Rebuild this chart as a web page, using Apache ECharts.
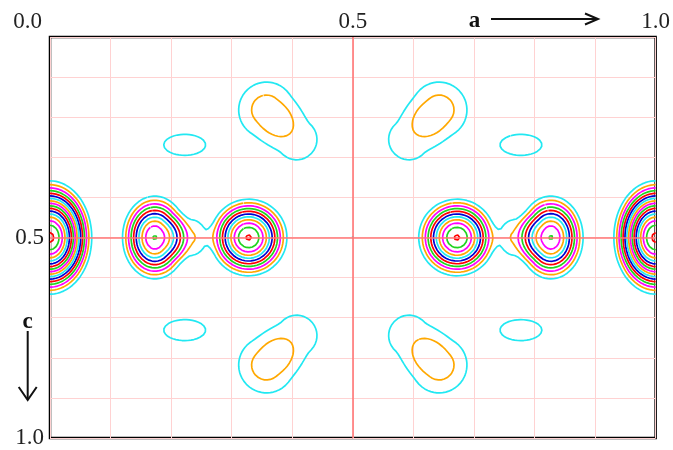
<!DOCTYPE html>
<html><head><meta charset="utf-8">
<script src="https://cdn.jsdelivr.net/npm/echarts@6/dist/echarts.min.js"></script>
<style>html,body{margin:0;padding:0;background:#fff}#c{width:673px;height:450px}</style>
</head><body><div id="c"></div>
<script>
// ---- values read from the map (fractional cell coordinates: a to the right, c downwards) ----
// density peaks (quartic bumps): position, height in contour steps, radii along a and c
const peakX  = [0.000, 1.000, 0.173, 0.827, 0.2306, 0.7694, 0.328, 0.672, 0.3575, 0.6425, 0.3575, 0.6425, 0.4072, 0.5928, 0.4072, 0.5928, 0.2224, 0.7776, 0.2224, 0.7776, 0.500];
const peakY  = [0.500, 0.500, 0.500, 0.500, 0.500, 0.500, 0.500, 0.500, 0.182, 0.182, 0.818, 0.818, 0.2554, 0.2554, 0.7446, 0.7446, 0.269, 0.269, 0.731, 0.731, 0.500];
const peakH  = [17.2, 17.2, 10.05, 10.05, 2.15, 2.15, 11.08, 11.08, 2.5, 2.5, 2.5, 2.5, 1.55, 1.55, 1.55, 1.55, 1.5, 1.5, 1.5, 1.5, 1.15];
const peakRa = [0.0791, 0.0791, 0.0643, 0.0643, 0.0494, 0.0494, 0.0755, 0.0755, 0.0758, 0.0758, 0.0758, 0.0758, 0.0758, 0.0758, 0.0758, 0.0758, 0.0807, 0.0807, 0.0807, 0.0807, 0.0099];
const peakRc = [0.1621, 0.1621, 0.1247, 0.1247, 0.0798, 0.0798, 0.1142, 0.1142, 0.1147, 0.1147, 0.1147, 0.1147, 0.1147, 0.1147, 0.1147, 0.1147, 0.0611, 0.0611, 0.0611, 0.0611, 0.0150];
// contour levels (equal steps)
const levels = [1, 2, 3, 4, 5, 6, 7, 8, 9, 10, 11, 12, 13, 14, 15, 16, 17];
// axis labels
const aLabelValues = [0, 0.5, 1.0];
const aLabelTexts  = ['0.0', '0.5', '1.0'];
const cLabelValues = [0.5, 1.0];
const cLabelTexts  = ['0.5', '1.0'];
const centreLinesA = [0.5];
const centreLinesC = [0.5];

// ---- styles ----
const levelColors = ['#22e8f2', '#ffa800', '#ff00ff', '#1fd41f', '#ff0000', '#0000d0'];
const FONT = '"Liberation Serif", "Times New Roman", serif';

// ---- density model built from the peak table ----
function density(x, y) {
  let s = 0;
  for (let i = 0; i < peakX.length; i++) {
    const dx = (x - peakX[i]) / peakRa[i], dy = (y - peakY[i]) / peakRc[i];
    const u = dx * dx + dy * dy;
    if (u < 1) s += peakH[i] * (1 - u) * (1 - u);
  }
  return s;
}

const NX = 404, NY = 268, W = NX + 1;
const V = new Float64Array((NX + 1) * (NY + 1));
for (let j = 0; j <= NY; j++) for (let i = 0; i <= NX; i++) V[j * W + i] = density(i / NX, j / NY);

function edgePoint(id, L) {
  if (id % 2 === 0) {
    const h = id / 2, j = Math.floor(h / NX), i = h % NX;
    const a = V[j * W + i], b = V[j * W + i + 1];
    const t = (L - a) / (b - a);
    return [(i + t) / NX, j / NY];
  } else {
    const v = (id - 1) / 2, j = Math.floor(v / W), i = v % W;
    const a = V[j * W + i], b = V[(j + 1) * W + i];
    const t = (L - a) / (b - a);
    return [i / NX, (j + t) / NY];
  }
}

function contour(L) {
  const sa = [], sb = [];
  const add = (p, q) => { sa.push(p); sb.push(q); };
  for (let j = 0; j < NY; j++) for (let i = 0; i < NX; i++) {
    const a = V[j * W + i], b = V[j * W + i + 1], c = V[(j + 1) * W + i + 1], d = V[(j + 1) * W + i];
    const idx = (a >= L ? 8 : 0) | (b >= L ? 4 : 0) | (c >= L ? 2 : 0) | (d >= L ? 1 : 0);
    if (idx === 0 || idx === 15) continue;
    const eT = 2 * (j * NX + i), eB = 2 * ((j + 1) * NX + i), eL = 2 * (j * W + i) + 1, eR = 2 * (j * W + i + 1) + 1;
    switch (idx) {
      case 1: case 14: add(eL, eB); break;
      case 2: case 13: add(eB, eR); break;
      case 3: case 12: add(eL, eR); break;
      case 4: case 11: add(eT, eR); break;
      case 6: case 9: add(eT, eB); break;
      case 7: case 8: add(eL, eT); break;
      case 5: { const m = (a + b + c + d) / 4; if (m >= L) { add(eL, eT); add(eB, eR); } else { add(eT, eR); add(eL, eB); } break; }
      case 10: { const m = (a + b + c + d) / 4; if (m >= L) { add(eT, eR); add(eL, eB); } else { add(eL, eT); add(eB, eR); } break; }
    }
  }
  const adj = new Map();
  for (let s = 0; s < sa.length; s++) {
    for (const e of [sa[s], sb[s]]) { let l = adj.get(e); if (!l) { l = []; adj.set(e, l); } l.push(s); }
  }
  const used = new Uint8Array(sa.length);
  const other = (s, e) => (sa[s] === e ? sb[s] : sa[s]);
  const next = (e) => { const l = adj.get(e); for (const s of l) if (!used[s]) return s; return -1; };
  const lines = [];
  for (let s0 = 0; s0 < sa.length; s0++) {
    if (used[s0]) continue;
    used[s0] = 1;
    const fwd = [sa[s0], sb[s0]];
    let e = sb[s0], s;
    while ((s = next(e)) >= 0) { used[s] = 1; e = other(s, e); fwd.push(e); }
    const back = []; e = sa[s0];
    while ((s = next(e)) >= 0) { used[s] = 1; e = other(s, e); back.push(e); }
    const chain = back.reverse().concat(fwd);
    lines.push(chain.map(id => edgePoint(id, L)));
  }
  return lines;
}

const series = [];
series.push({
  type: 'line', data: [], silent: true, animation: false, z: 1,
  markLine: {
    symbol: 'none', silent: true, animation: false, label: { show: false },
    lineStyle: { color: '#ff7777', width: 1.6, type: 'solid' },
    data: centreLinesA.map(v => ({ xAxis: v })).concat(centreLinesC.map(v => ({ yAxis: v })))
  }
});
levels.forEach((L, k) => {
  contour(L).forEach(pts => {
    series.push({
      type: 'line', data: pts, symbol: 'none', showSymbol: false, silent: true, animation: false,
      z: 3, lineStyle: { color: levelColors[k % levelColors.length], width: 1.7 }
    });
  });
});

function labelFor(values, texts, v) {
  for (let k = 0; k < values.length; k++) if (Math.abs(v - values[k]) < 1e-6) return texts[k];
  return '';
}

const chart = echarts.init(document.getElementById('c'), null, { renderer: 'canvas' });
chart.setOption({
  animation: false,
  backgroundColor: '#fff',
  grid: { left: 50, top: 37, width: 607, height: 401, show: true, borderColor: '#000', borderWidth: 2.5, backgroundColor: 'transparent' },
  xAxis: {
    type: 'value', position: 'top', min: 0, max: 1, interval: 0.1,
    axisLine: { show: false }, axisTick: { show: false },
    splitLine: { show: true, lineStyle: { color: '#ffd2d2', width: 1 } },
    axisLabel: {
      margin: 4, color: '#222', fontFamily: FONT, fontSize: 23,
      formatter: v => { const t = labelFor(aLabelValues, aLabelTexts, v); return (t && Math.abs(v) < 1e-6) ? '{z|' + t + '}' : t; },
      rich: { z: { fontFamily: FONT, fontSize: 23, color: '#222', padding: [0, 45, 0, 0] } }
    }
  },
  yAxis: {
    type: 'value', inverse: true, position: 'left', min: 0, max: 1, interval: 0.1,
    axisLine: { show: false }, axisTick: { show: false },
    splitLine: { show: true, lineStyle: { color: '#ffd2d2', width: 1 } },
    axisLabel: { margin: 6, color: '#222', fontFamily: FONT, fontSize: 23, formatter: v => labelFor(cLabelValues, cLabelTexts, v) }
  },
  series: series,
  graphic: [
    { type: 'text', x: 474.5, y: 21, z: 20, style: { text: 'a', font: 'bold 23px ' + FONT, fill: '#111', align: 'center', verticalAlign: 'middle', textAlign: 'center', textVerticalAlign: 'middle' } },
    { type: 'polyline', z: 20, shape: { points: [[491, 19], [597, 19]] }, style: { stroke: '#111', lineWidth: 2, fill: null } },
    { type: 'polyline', z: 20, shape: { points: [[585, 13.5], [598, 19], [585, 24.5]] }, style: { stroke: '#111', lineWidth: 2, fill: null } },
    { type: 'text', x: 27.5, y: 322, z: 20, style: { text: 'c', font: 'bold 23px ' + FONT, fill: '#111', align: 'center', verticalAlign: 'middle', textAlign: 'center', textVerticalAlign: 'middle' } },
    { type: 'polyline', z: 20, shape: { points: [[27.7, 331], [27.7, 399]] }, style: { stroke: '#111', lineWidth: 2, fill: null } },
    { type: 'polyline', z: 20, shape: { points: [[18.7, 387], [27.7, 400], [36.7, 387]] }, style: { stroke: '#111', lineWidth: 2, fill: null } }
  ]
});
</script>
</body></html>
